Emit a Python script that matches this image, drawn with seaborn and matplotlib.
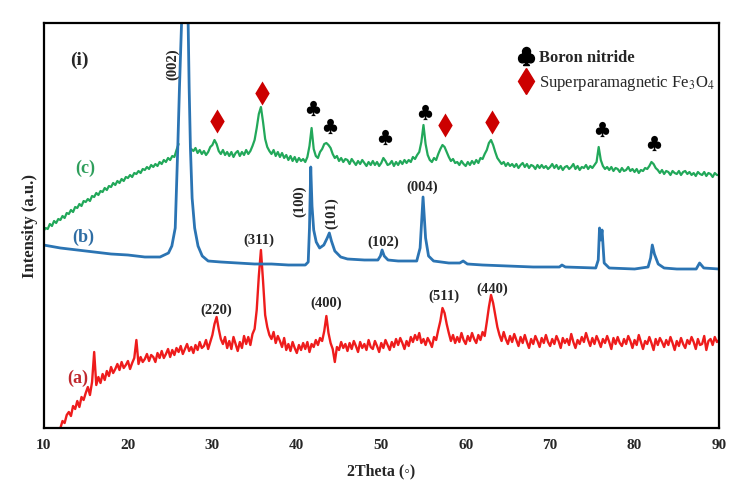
import numpy as np
import pandas as pd
import matplotlib
matplotlib.use("Agg")
import matplotlib.pyplot as plt
import seaborn as sns
from matplotlib.lines import Line2D

# XRD patterns, intensity in arbitrary units
# (a) Fe3O4 and (c) composite are on a 0.25 deg grid, (b) BN is listed point by point
red_start = 12.0
green_start = 10.0
step = 0.25

red_a = [
    0, 7, 5, 13, 16, 12, 22, 19, 27, 21, 31, 28, 35, 41, 33, 46,
    76, 43, 51, 45, 54, 48, 57, 52, 61, 55, 59, 64, 58, 66, 60, 63,
    67, 59, 65, 70, 88, 64, 71, 66, 69, 74, 67, 73, 71, 66, 75, 70,
    77, 70, 74, 79, 71, 78, 73, 80, 76, 82, 74, 79, 84, 77, 81, 75,
    83, 78, 86, 80, 82, 88, 79, 86, 93, 104, 111, 99, 89, 84, 91, 80,
    87, 79, 91, 84, 77, 86, 80, 92, 84, 91, 83, 94, 99, 118, 152, 178,
    147, 113, 101, 93, 89, 96, 85, 92, 87, 81, 90, 78, 84, 77, 86, 80,
    75, 83, 78, 85, 79, 86, 76, 84, 81, 88, 83, 90, 87, 97, 112, 95,
    85, 79, 66, 81, 78, 86, 80, 84, 77, 85, 79, 87, 82, 76, 86, 80,
    84, 78, 88, 81, 79, 87, 82, 76, 85, 80, 88, 83, 78, 86, 81, 89,
    83, 90, 85, 79, 87, 82, 91, 86, 93, 88, 95, 85, 89, 83, 90, 86,
    81, 91, 88, 98, 107, 120, 115, 104, 95, 87, 93, 85, 91, 86, 95, 88,
    84, 92, 87, 95, 89, 85, 93, 88, 96, 92, 106, 121, 133, 125, 113, 101,
    93, 87, 96, 89, 84, 92, 86, 94, 88, 82, 91, 85, 93, 86, 80, 89,
    84, 92, 87, 81, 90, 85, 93, 86, 82, 89, 84, 92, 87, 80, 90, 85,
    89, 83, 94, 86, 80, 88, 84, 91, 86, 95, 88, 82, 90, 84, 92, 87,
    81, 89, 85, 92, 86, 79, 90, 84, 91, 85, 82, 89, 84, 92, 87, 80,
    88, 83, 93, 86, 79, 87, 84, 91, 85, 78, 89, 83, 90, 86, 81, 88,
    83, 91, 85, 78, 87, 82, 90, 84, 80, 88, 84, 91, 86, 79, 89, 83,
    84, 92, 78, 87, 89, 83, 91, 86, 88,
]

nan = np.nan
green_c = [
    197, 200, 199, 204, 202, 207, 205, 209, 208, 212, 210, 215, 214, 218, 216, 221,
    220, 224, 222, 227, 226, 229, 227, 232, 231, 235, 233, 237, 236, 240, 238, 242,
    241, 245, 243, 247, 245, 249, 247, 251, 250, 253, 251, 255, 254, 257, 255, 259,
    258, 261, 259, 263, 261, 264, 262, 266, 264, 268, 266, 270, 268, 272, 271, 278,
    284, nan, nan, nan, nan, nan, 279, 277, 280, 275, 278, 274, 277, 273, 276, 281,
    283, 288, 284, 277, 274, 278, 273, 276, 272, 276, 271, 275, 277, 272, 276, 273,
    278, 274, 277, 282, 288, 300, 314, 321, 306, 289, 281, 277, 274, 278, 272, 276,
    271, 275, 270, 273, 268, 272, 267, 271, 266, 270, 267, 269, 266, 271, 282, 300,
    279, 272, 270, 276, 279, 284, 285, 283, 280, 274, 270, 272, 267, 270, 266, 269,
    268, 264, 269, 266, 263, 267, 264, 268, 265, 262, 266, 263, 267, 263, 266, 262,
    265, 270, 267, 263, 264, 267, 262, 266, 263, 267, 264, 268, 265, 268, 266, 271,
    269, 273, 276, 286, 303, 284, 273, 268, 266, 270, 268, 274, 279, 283, 281, 276,
    271, 267, 269, 265, 266, 263, 267, 264, 262, 266, 263, 267, 264, 268, 265, 270,
    269, 274, 278, 285, 288, 283, 276, 270, 267, 264, 266, 262, 265, 262, 264, 261,
    264, 260, 263, 265, 261, 264, 260, 263, 262, 259, 263, 260, 263, 260, 262, 259,
    261, 264, 260, 263, 259, 262, 258, 261, 262, 259, 261, 264, 259, 262, 258, 261,
    260, 263, 259, 262, 260, 263, 266, 281, 268, 262, 259, 261, 258, 261, 257, 260,
    259, 256, 260, 257, 258, 261, 257, 259, 256, 259, 255, 258, 257, 260, 259, 262,
    266, 264, 260, 258, 255, 258, 254, 257, 256, 253, 257, 255, 254, 257, 253, 256,
    257, 254, 256, 253, 255, 252, 256, 254, 253, 256, 252, 255, 254, 251, 255, 253,
    253,
]

blue_x = [10, 12, 14, 16, 18, 20, 22, 23.8, 24.8, 25.2, 25.6, 25.9,
          26.1, 26.35, 26.6, 26.75, 26.9, 27.13, 27.25, 27.4, 27.6, 27.9,
          28.3, 28.8, 29.5, 31, 33, 35, 37, 39, 41, 41.35, 41.5, 41.65,
          41.8, 42.0, 42.3, 42.7, 43.2, 43.6, 43.85, 44.1, 44.5, 45.2, 46,
          48, 49.6, 49.9, 50.1, 50.35, 50.8, 52, 54.2, 54.6, 54.95, 55.25,
          55.6, 56.2, 58, 59.3, 59.7, 60.2, 62, 65, 68, 71.1, 71.4, 71.8,
          75.4, 75.7, 75.85, 76.0, 76.15, 76.4, 77, 80, 81.6, 81.9, 82.1,
          82.35, 82.8, 83.5, 85, 87.3, 87.7, 88.2, 90]
blue_b = [183, 180, 178, 176, 174, 173, 171, 171, 175, 182, 200, 280,
          340, 405, 600, 700, 600, 405, 340, 280, 230, 200,
          182, 172, 167, 166, 165, 164, 164, 163, 163, 166, 200, 261,
          222, 198, 186, 180, 183, 190, 195, 187, 177, 171, 169,
          168, 168, 172, 178, 172, 168, 167, 167, 180, 231, 190,
          172, 167, 165, 165, 167, 164, 163, 162, 161, 161, 163, 161,
          160, 168, 200, 188, 198, 165, 160, 159, 161, 170, 183,
          174, 164, 160, 159, 159, 165, 160, 159]

# phase markers
diamond_x = [30.5, 35.9, 57.6, 63.1]
diamond_y = [307, 335, 303, 306]
club_x = [41.9, 43.9, 50.5, 55.2, 76.1, 82.3]
club_y = [320, 302, 291, 316, 299, 285]

# reflection labels
peak_labels = ["(220)", "(311)", "(400)", "(511)", "(440)", "(102)", "(004)"]
peak_x = [30.5, 35.5, 43.5, 57.4, 63.1, 50.2, 54.9]
peak_y = [118, 188, 125, 132, 139, 186, 241]
vpeak_labels = ["(002)", "(100)", "(101)"]
vpeak_x = [25.3, 40.3, 44.1]
vpeak_y = [364, 227, 215]

red = "#ee1c1c"
blue = "#2b74b3"
green = "#22a85a"
serif = ["Liberation Serif", "DejaVu Sans"]

sns.set_style("white")
plt.rcParams["font.family"] = serif
plt.rcParams["mathtext.fontset"] = "stix"

red_x = red_start + step * np.arange(len(red_a))
green_x = green_start + step * np.arange(len(green_c))

df_red = pd.DataFrame({"two_theta": red_x, "intensity": red_a})
df_blue = pd.DataFrame({"two_theta": blue_x, "intensity": blue_b})
df_green = pd.DataFrame({"two_theta": green_x, "intensity": green_c})
df_green["seg"] = df_green["intensity"].isna().cumsum()
df_green = df_green.dropna()

fig = plt.figure(figsize=(7.45, 5.01), dpi=100)
ax = fig.add_axes([0.0584, 0.1457, 0.9067, 0.8084])

sns.lineplot(data=df_green, x="two_theta", y="intensity", units="seg",
             estimator=None, sort=False, color=green, lw=1.6, ax=ax)
sns.lineplot(data=df_red, x="two_theta", y="intensity", estimator=None,
             sort=False, color=red, lw=1.7, ax=ax)
sns.lineplot(data=df_blue, x="two_theta", y="intensity", estimator=None,
             sort=False, color=blue, lw=2.0, ax=ax)

sns.scatterplot(x=diamond_x, y=diamond_y, marker="d", s=150, color="#cc0000",
                linewidth=0, ax=ax)
sns.scatterplot(x=club_x, y=club_y, marker="$\u2663$", s=120, color="black",
                linewidth=0, ax=ax)

for lab, x, y in zip(peak_labels, peak_x, peak_y):
    ax.text(x, y, lab, ha="center", va="center", fontsize=10.5, fontweight="bold")
for lab, x, y in zip(vpeak_labels, vpeak_x, vpeak_y):
    ax.text(x, y, lab, ha="center", va="center", fontsize=10.5,
            fontweight="bold", rotation=90)

ax.text(14.3, 368, "(i)", ha="center", va="center", fontsize=14, fontweight="bold")
ax.text(14.9, 260, "(c)", ha="center", va="center", fontsize=13,
        fontweight="bold", color="#2e9e5b")
ax.text(14.7, 191, "(b)", ha="center", va="center", fontsize=13,
        fontweight="bold", color="#2e6da4")
ax.text(14.0, 50, "(a)", ha="center", va="center", fontsize=13,
        fontweight="bold", color="#c0282d")

handles = [Line2D([], [], ls="none", marker="$\u2663$", color="black", markersize=13),
           Line2D([], [], ls="none", marker="d", color="#cc0000", markersize=13)]
leg = ax.legend(handles, ["Boron nitride", "Superparamagnetic Fe$_3$O$_4$"],
                loc="upper left", bbox_to_anchor=(0.677, 0.97), frameon=False,
                handletextpad=0.2, handlelength=1.2, labelspacing=0.45,
                prop={"family": serif, "size": 12})
leg.get_texts()[0].set_fontweight("bold")

ax.set_xlim(10, 90)
ax.set_ylim(0, 405)
ax.set_xticks(range(10, 91, 10))
ax.set_yticks([])
ax.tick_params(axis="x", direction="out", length=5, width=1.5, labelsize=11, pad=3)
for t in ax.get_xticklabels():
    t.set_fontweight("bold")
for s in ax.spines.values():
    s.set_linewidth(1.6)
    s.set_color("black")

ax.set_xlabel("2Theta (\u25e6)", fontsize=11.5, fontweight="bold", labelpad=8)
ax.set_ylabel("Intensity (a.u.)", fontsize=12, fontweight="bold", labelpad=4)

fig.savefig("out.png", dpi=100)
